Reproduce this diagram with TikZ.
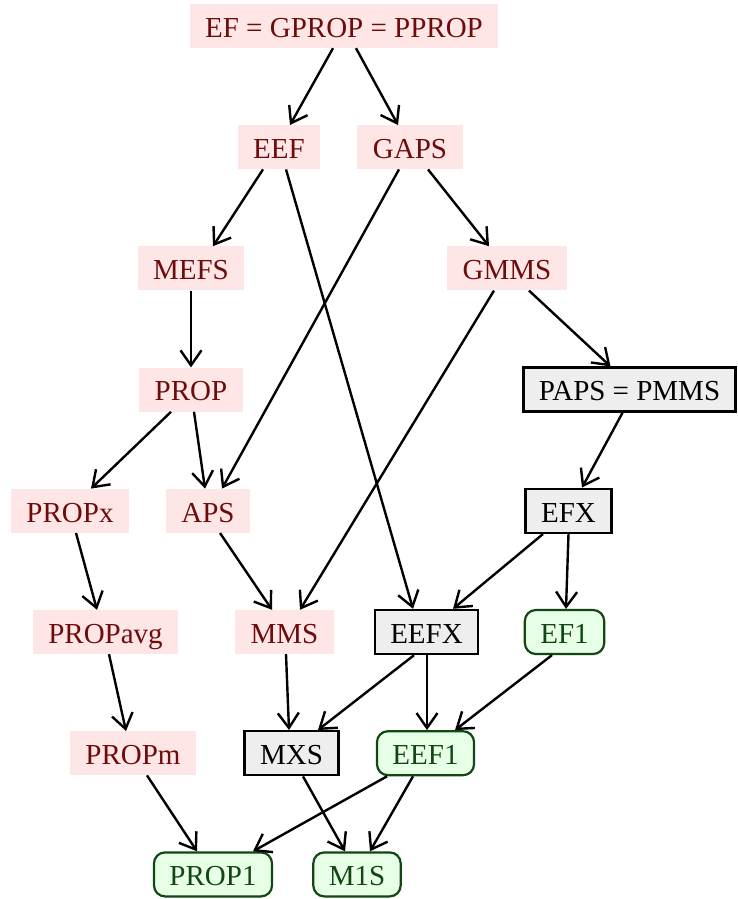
\documentclass[tikz,border=0pt]{standalone}
\usepackage{fontspec}
\setmainfont{Liberation Serif}
\usetikzlibrary{arrows.meta}
\definecolor{redfill}{RGB}{255,230,230}
\definecolor{redtext}{RGB}{110,12,12}
\definecolor{grayfill}{RGB}{238,238,238}
\definecolor{greenfill}{RGB}{230,255,230}
\definecolor{greenline}{RGB}{18,70,18}
\tikzset{
  base/.style={inner xsep=15.5pt, inner ysep=0pt, minimum height=44pt,
    text height=24pt, text depth=1.4pt, font=\fontsize{29pt}{34pt}\selectfont},
  rednode/.style={base, fill=redfill, text=redtext},
  graynode/.style={base, fill=grayfill, draw=black, line width=2.4pt},
  greennode/.style={base, fill=greenfill, draw=greenline, text=greenline, line width=2.2pt, rounded corners=11pt},
  edge/.style={line width=2.4pt, -{Straight Barb[length=15pt,width=21pt,line width=2.4pt]}}
}
\begin{document}
\begin{tikzpicture}[x=1pt,y=1pt]
\useasboundingbox (0,0) rectangle (737,-899);
% rows
\node[rednode] (top) at (344,-26) {EF = GPROP = PPROP};
\node[rednode] (eef) at (279,-147.2) {EEF};
\node[rednode] (gaps) at (410,-147.2) {GAPS};
\node[rednode] (mefs) at (191,-268.4) {MEFS};
\node[rednode] (gmms) at (507,-268.4) {GMMS};
\node[rednode] (prop) at (191,-389.6) {PROP};
\node[graynode] (paps) at (629.5,-389.6) {PAPS = PMMS};
\node[rednode] (propx) at (70,-510.8) {PROPx};
\node[rednode] (aps) at (208,-510.8) {APS};
\node[graynode] (efx) at (568.5,-510.8) {EFX};
\node[rednode] (propavg) at (105.5,-632) {PROPavg};
\node[rednode] (mms) at (284.5,-632) {MMS};
\node[graynode] (eefx) at (426.5,-632) {EEFX};
\node[greennode] (efone) at (564.5,-632) {EF1};
\node[rednode] (propm) at (133,-753.2) {PROPm};
\node[graynode] (mxs) at (291.5,-753.2) {MXS};
\node[greennode] (eefone) at (425.5,-753.2) {EEF1};
\node[greennode] (propone) at (213,-874.4) {PROP1};
\node[greennode] (mones) at (357,-874.4) {M1S};
% edges
\draw[edge] ([xshift=-11pt]top.south) -- ([xshift=11pt]eef.north);
\draw[edge] ([xshift=12pt]top.south) -- ([xshift=-12pt]gaps.north);
\draw[edge] ([xshift=-16pt]eef.south) -- ([xshift=22pt]mefs.north);
\draw[edge] ([xshift=7pt]eef.south) -- ([xshift=-13.5pt]eefx.north);
\draw[edge] ([xshift=-11pt]gaps.south) -- ([xshift=14pt]aps.north);
\draw[edge] ([xshift=18pt]gaps.south) -- ([xshift=-18pt]gmms.north);
\draw[edge] (mefs.south) -- (prop.north);
\draw[edge] ([xshift=-13pt]gmms.south) -- ([xshift=15.5pt]mms.north);
\draw[edge] ([xshift=22pt]gmms.south) -- ([xshift=-19pt]paps.north);
\draw[edge] ([xshift=-20pt]prop.south) -- ([xshift=21pt]propx.north);
\draw[edge] ([xshift=3pt]prop.south) -- ([xshift=-3pt]aps.north);
\draw[edge] ([xshift=-7pt]paps.south) -- ([xshift=13.5pt]efx.north);
\draw[edge] ([xshift=6pt]propx.south) -- ([xshift=-8.5pt]propavg.north);
\draw[edge] ([xshift=12pt]aps.south) -- ([xshift=-12.5pt]mms.north);
\draw[edge] ([xshift=-25.5pt]efx.south) -- ([xshift=26.5pt]eefx.north);
\draw[edge] (efx.south) -- ([xshift=1.5pt]efone.north);
\draw[edge] ([xshift=3.5pt]propavg.south) -- ([xshift=-7pt]propm.north);
\draw[edge] ([xshift=1.5pt]mms.south) -- ([xshift=-2.5pt]mxs.north);
\draw[edge] ([xshift=-12.5pt]eefx.south) -- ([xshift=26.5pt]mxs.north);
\draw[edge] ([xshift=0.5pt]eefx.south) -- ([xshift=1.5pt]eefone.north);
\draw[edge] ([xshift=-12.5pt]efone.south) -- ([xshift=29.5pt]eefone.north);
\draw[edge] ([xshift=14pt]propm.south) -- ([xshift=-16pt]propone.north);
\draw[edge] ([xshift=11.5pt]mxs.south) -- ([xshift=-12pt]mones.north);
\draw[edge] ([xshift=-38.5pt]eefone.south) -- ([xshift=40pt]propone.north);
\draw[edge] ([xshift=-12.5pt]eefone.south) -- ([xshift=13pt]mones.north);
\end{tikzpicture}
\end{document}
